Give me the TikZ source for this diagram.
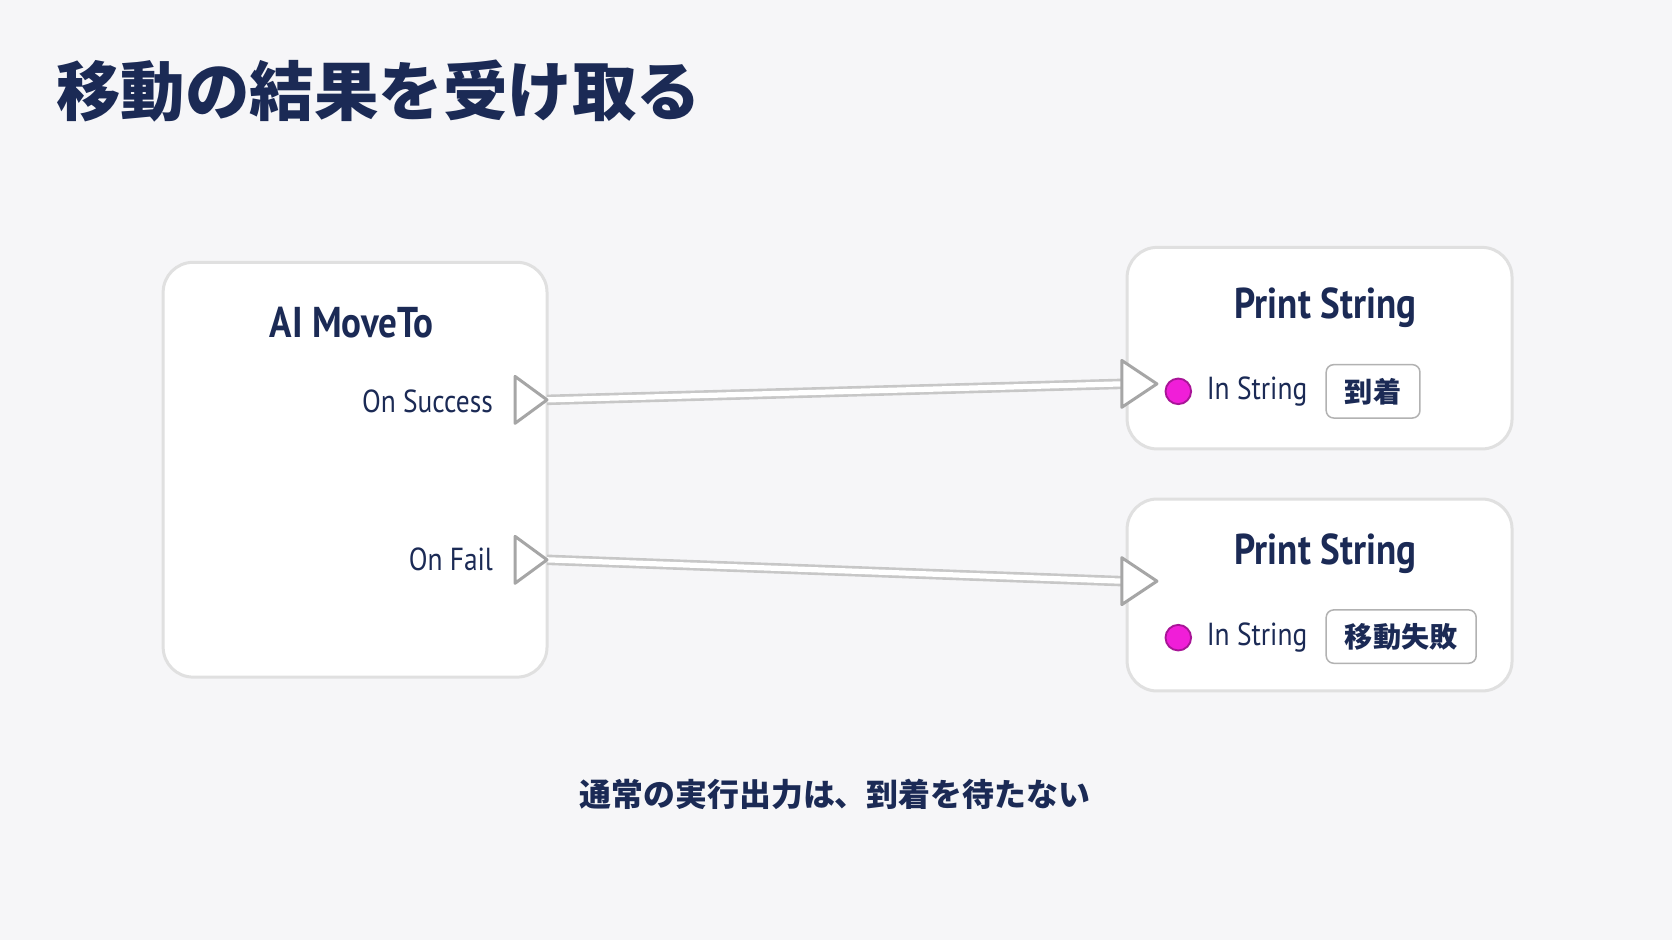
\documentclass[tikz,border=0pt]{standalone}
\usepackage{fontspec}
\setmainfont{PT Sans}[FakeStretch=0.86]
\newfontfamily\cjk{Noto Sans CJK JP}
\usetikzlibrary{positioning}
\definecolor{navy}{HTML}{1B2A55}
\definecolor{bgcol}{HTML}{F6F6F8}
\definecolor{pinpink}{HTML}{F01ED8}
\tikzset{
  bpnode/.style={draw=black!12,fill=white,rounded corners=8pt,line width=0.8pt},
  bptitle/.style={text=navy,font=\bfseries\fontsize{11.5}{14}\selectfont},
  pinlabel/.style={text=navy,font=\fontsize{8.5}{10}\selectfont,anchor=east,inner sep=0pt},
  execpin/.style={draw=black!35,fill=white,line width=0.8pt,line join=round},
  valbox/.style={draw=black!30,fill=white,rounded corners=2pt,text=navy,font=\cjk\bfseries\fontsize{7.5}{10}\selectfont,minimum height=0.5cm,inner xsep=5pt},
  wire/.style={draw=black!22,double=white,double distance=1.4pt,line width=0.7pt}
}
\begin{document}
\begin{tikzpicture}[x=0.01cm,y=-0.01cm]
  \fill[bgcol] (0,0) rectangle (1568,882);
  \useasboundingbox (0,0) rectangle (1568,882);
  % title
  \node[anchor=west,text=navy,font=\cjk\bfseries\fontsize{17.2}{20}\selectfont,inner sep=0pt] (title) at (52,85) {移動の結果を受け取る};
  % AI MoveTo node
  \draw[bpnode] (153,246) rectangle (513,635);
  \node[bptitle] (move) at (330,303) {AI MoveTo};
  \node[pinlabel] (succ) at (463,376) {On Success};
  \node[pinlabel] (fail) at (463,525) {On Fail};
  \coordinate (succout) at (513,375);
  \coordinate (failout) at (513,525);
  % Print String nodes
  \draw[bpnode] (1057,232) rectangle (1418,421);
  \draw[bpnode] (1057,468) rectangle (1418,648);
  \node[bptitle] (print1) at (1243,289) {Print String};
  \node[bptitle] (print2) at (1243,519) {Print String};
  \coordinate (in1) at (1052,360);
  \coordinate (in2) at (1052,545);
  % wires
  \draw[wire] (succout) -- (in1);
  \draw[wire] (failout) -- (in2);
  \draw[execpin] (483,353) -- (483,397) -- (513,375) -- cycle;
  \draw[execpin] (483,503) -- (483,547) -- (513,525) -- cycle;
  \draw[execpin] (1052,338) -- (1052,382) -- (1085,360) -- cycle;
  \draw[execpin] (1052,523) -- (1052,567) -- (1085,545) -- cycle;
  % string pins
  \foreach \y/\n in {367/1,598/2}{
    \fill[pinpink,draw=pinpink!70!black,line width=0.5pt] (1105,\y) circle (12);
    \node[pinlabel,anchor=west] (instr\n) at (1131,\y) {In String};
  }
  \node[valbox,anchor=west] (val1) at (1243,367) {到着};
  \node[valbox,anchor=west] (val2) at (1243,597) {移動失敗};
  % caption
  \node[text=navy,font=\cjk\bfseries\fontsize{8.5}{10}\selectfont] (caption) at (783,745) {通常の実行出力は、到着を待たない};
\end{tikzpicture}
\end{document}
